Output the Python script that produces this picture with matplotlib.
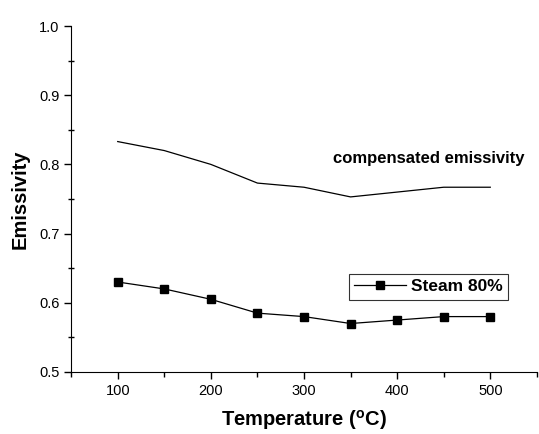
import matplotlib
matplotlib.use("Agg")
import matplotlib.pyplot as plt

plt.rcParams['font.family'] = ['Liberation Sans', 'DejaVu Sans']

temperature = [100, 150, 200, 250, 300, 350, 400, 450, 500]
compensated = [0.833, 0.820, 0.800, 0.773, 0.767, 0.753, 0.760, 0.767, 0.767]
steam_80 = [0.630, 0.620, 0.605, 0.585, 0.580, 0.570, 0.575, 0.580, 0.580]

fig = plt.figure(figsize=(5.39, 4.34), dpi=100)
ax = fig.add_axes([0.132, 0.143, 0.864, 0.797])

ax.plot(temperature, compensated, color='black', linewidth=0.9)
ax.plot(temperature, steam_80, color='black', linewidth=0.9, marker='s',
        markersize=6, label='Steam 80%')

ax.text(434, 0.808, 'compensated emissivity', fontsize=12, fontweight='bold',
        ha='center', va='center')

ax.set_xlim(50, 550)
ax.set_ylim(0.5, 1.0)
ax.set_xticks([100, 200, 300, 400, 500])
ax.set_xticks([50, 150, 250, 350, 450, 550], minor=True)
ax.set_yticks([0.5, 0.6, 0.7, 0.8, 0.9, 1.0])
ax.set_yticks([0.55, 0.65, 0.75, 0.85, 0.95], minor=True)
ax.yaxis.set_major_formatter(matplotlib.ticker.FormatStrFormatter('%.1f'))
ax.tick_params(which='major', direction='out', length=5, width=1, labelsize=10.5)
ax.tick_params(which='minor', direction='out', length=3.5, width=1)
ax.tick_params(axis='y', which='minor', direction='inout', length=4)

ax.spines['top'].set_visible(False)
ax.spines['right'].set_visible(False)

ax.set_xlabel('Temperature ($\\mathregular{^oC}$)', fontsize=14.5, fontweight='bold', labelpad=7.5)
ax.set_ylabel('Emissivity', fontsize=14.5, fontweight='bold', labelpad=7)

leg = ax.legend(loc='upper right', bbox_to_anchor=(0.938, 0.283),
                prop={'weight': 'bold', 'size': 12.5}, fancybox=False,
                edgecolor='black', handlelength=3.0, handletextpad=0.3,
                borderpad=0.3, borderaxespad=0)
leg.get_frame().set_linewidth(0.8)

fig.savefig('out.png', dpi=100)
